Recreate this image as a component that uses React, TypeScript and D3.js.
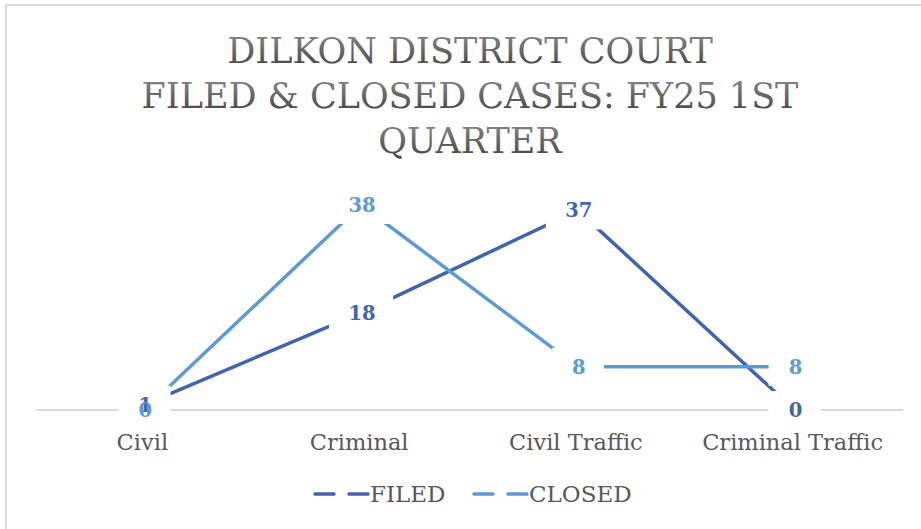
import * as d3 from 'd3';
import { useEffect, useRef } from 'react';

const categories = ['Civil', 'Criminal', 'Civil Traffic', 'Criminal Traffic'];
const filed = [1, 18, 37, 0];
const closed = [0, 38, 8, 8];
const titleLines = ['DILKON DISTRICT COURT', 'FILED & CLOSED CASES: FY25 1ST', 'QUARTER'];

const series = [
  { name: 'FILED', values: filed, color: '#4264B0' },
  { name: 'CLOSED', values: closed, color: '#5B9BD5' },
];

export default function App() {
  const ref = useRef<SVGSVGElement | null>(null);

  useEffect(() => {
    const width = 921, height = 529;
    const svg = d3.select(ref.current);
    svg.selectAll('*').remove();
    const font = '"DejaVu Serif", serif';

    svg.append('rect').attr('x', 0).attr('y', 0).attr('width', width).attr('height', height).attr('fill', '#fff');
    // chart frame, runs off the right/bottom like the screenshot
    svg.append('rect').attr('x', 6).attr('y', 5).attr('width', 940).attr('height', 560)
      .attr('fill', 'none').attr('stroke', '#d9d9d9').attr('stroke-width', 2);

    const defs = svg.append('defs');
    const grad = defs.append('linearGradient').attr('id', 'tgrad').attr('x1', 0).attr('y1', 0).attr('x2', 0).attr('y2', 1);
    grad.append('stop').attr('offset', '0%').attr('stop-color', '#8c8c8c');
    grad.append('stop').attr('offset', '100%').attr('stop-color', '#3f3f3f');

    titleLines.forEach((t, i) => {
      svg.append('text')
        .attr('x', 470).attr('y', 63 + i * 45)
        .attr('text-anchor', 'middle')
        .style('font-family', font).attr('font-size', 35)
        .attr('fill', 'url(#tgrad)')
        .text(t);
    });

    const x = d3.scaleBand().domain(categories).range([36, 903]);
    const y = d3.scaleLinear().domain([0, 38]).range([410, 205]);
    const cx = (c: string) => (x(c) as number) + x.bandwidth() / 2;

    svg.append('line').attr('x1', 36).attr('x2', 903).attr('y1', y(0)).attr('y2', y(0))
      .attr('stroke', '#d9d9d9').attr('stroke-width', 2);

    svg.selectAll('text.cat').data(categories).join('text').attr('class', 'cat')
      .attr('x', (d) => cx(d) - 2).attr('y', 450)
      .attr('text-anchor', 'middle')
      .style('font-family', font).attr('font-size', 22.5).attr('fill', '#595959')
      .text((d) => d);

    const line = d3.line<number>().x((_, i) => cx(categories[i])).y((d) => y(d));

    series.forEach((s) => {
      svg.append('path').attr('d', line(s.values) as string)
        .attr('fill', 'none').attr('stroke', s.color).attr('stroke-width', 3.5)
        .attr('stroke-linejoin', 'round');
    });

    // white boxes behind labels cut the lines
    series.forEach((s) => {
      s.values.forEach((v, i) => {
        const px = cx(categories[i]), py = y(v);
        const w = String(v).length * 12 + 40;
        svg.append('rect').attr('x', px - w / 2).attr('y', py - 19).attr('width', w).attr('height', 38).attr('fill', '#fff');
      });
    });
    series.forEach((s) => {
      s.values.forEach((v, i) => {
        svg.append('text')
          .attr('x', cx(categories[i]) + 1).attr('y', y(v) + 7)
          .attr('text-anchor', 'middle')
          .style('font-family', font).attr('font-size', 19.5).attr('font-weight', 'bold')
          .attr('fill', s.color)
          .text(v);
      });
    });

    const legendX = [315, 474];
    series.forEach((s, i) => {
      const lx = legendX[i];
      svg.append('line').attr('x1', lx).attr('x2', lx + 53).attr('y1', 494).attr('y2', 494)
        .attr('stroke', s.color).attr('stroke-width', 3.5)
        .attr('stroke-dasharray', '19,15').attr('stroke-linecap', 'round');
      svg.append('text').attr('x', lx + 55).attr('y', 502)
        .style('font-family', font).attr('font-size', 23).attr('fill', '#595959')
        .text(s.name);
    });
  }, []);

  return <svg ref={ref} width={921} height={529} style={{ display: 'block', position: 'absolute', left: 0, top: 0 }} />;
}
